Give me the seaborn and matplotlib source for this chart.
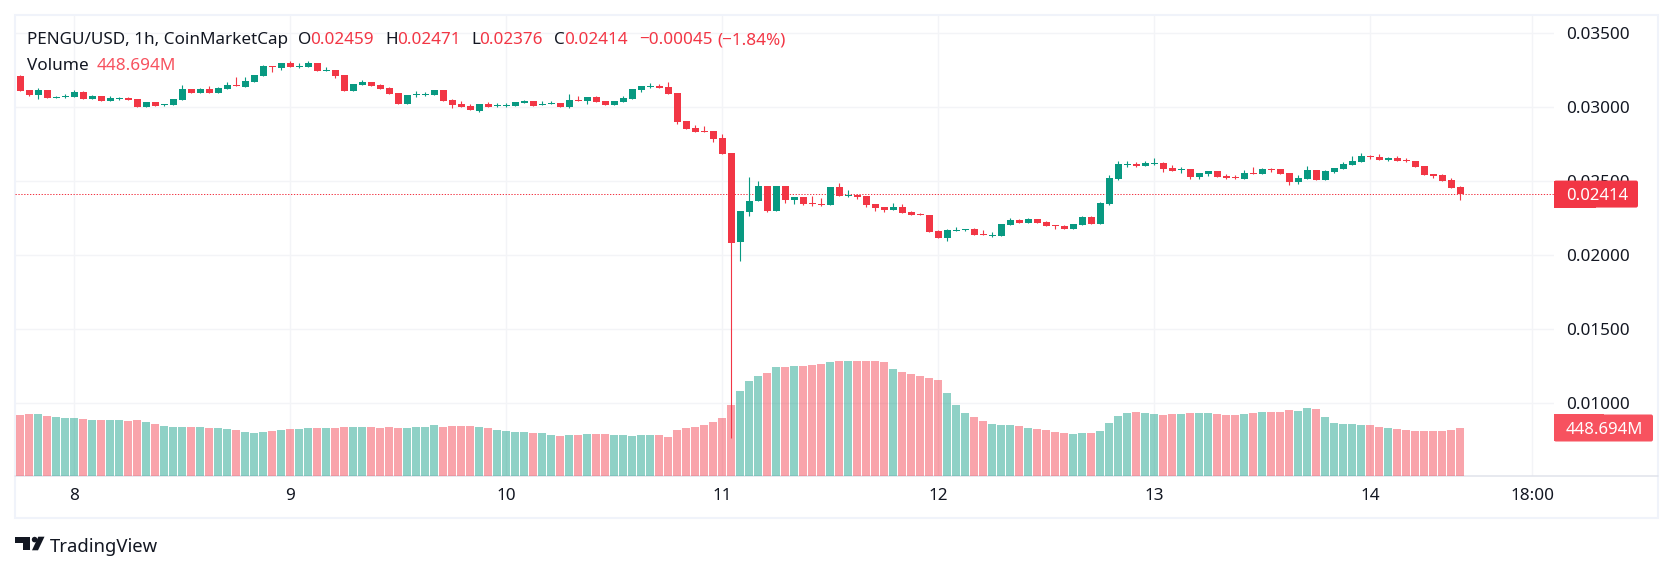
import matplotlib
matplotlib.use("Agg")
import matplotlib.pyplot as plt
from matplotlib.patches import Rectangle, Polygon, Circle, FancyBboxPatch
from matplotlib.transforms import IdentityTransform
import numpy as np
import pandas as pd
import seaborn as sns

# Hourly PENGU/USD candles, prices in units of 0.00001 USD
opens = [3212,3117,3083,3117,3065,3072,3070,3104,3056,3074,3045,3059,3063,3056,3002,3036,3016,3016,3050,3124,
         3097,3124,3097,3124,3149,3137,3171,3212,3279,3266,3300,3275,3272,3300,3245,3252,3218,3110,3151,3171,
         3151,3131,3097,3023,3081,3083,3083,3117,3050,3023,3009,2975,3023,3009,3011,3009,3029,3043,3016,3023,
         3029,3002,3050,3043,3070,3043,3016,3036,3056,3117,3137,3144,3137,3097,2908,2860,2840,2840,2793,2691,
         2090,2293,2367,2469,2300,2469,2374,2394,2354,2347,2340,2462,2401,2408,2401,2347,2327,2306,2327,2293,
         2279,2273,2164,2117,2164,2171,2178,2144,2131,2131,2205,2239,2219,2246,2225,2205,2198,2178,2205,2259,
         2212,2347,2516,2610,2617,2604,2617,2624,2590,2577,2583,2529,2550,2570,2536,2529,2516,2556,2550,2583,
         2583,2556,2495,2516,2577,2509,2563,2583,2610,2631,2671,2664,2644,2658,2644,2637,2604,2550,2543,2509,
         2459]
highs = [3216,3117,3131,3117,3077,3088,3117,3108,3083,3074,3077,3070,3068,3056,3036,3036,3023,3056,3151,3124,
         3131,3144,3137,3171,3205,3205,3218,3286,3279,3300,3313,3300,3313,3300,3272,3252,3218,3158,3185,3171,
         3158,3137,3097,3083,3110,3104,3117,3117,3056,3043,3023,3023,3036,3029,3027,3036,3050,3043,3043,3043,
         3029,3090,3077,3070,3077,3043,3043,3077,3124,3144,3164,3158,3171,3097,2908,2881,2874,2840,2820,2691,
         2300,2529,2502,2469,2469,2469,2394,2394,2401,2387,2462,2489,2442,2412,2401,2347,2327,2354,2347,2300,
         2284,2273,2171,2178,2191,2178,2185,2171,2158,2212,2252,2246,2252,2246,2232,2205,2205,2212,2266,2266,
         2360,2543,2637,2637,2631,2637,2658,2631,2610,2597,2583,2556,2570,2570,2550,2543,2577,2597,2590,2590,
         2583,2556,2543,2604,2577,2577,2590,2631,2671,2691,2678,2685,2664,2671,2658,2637,2604,2550,2550,2523,
         2471]
lows = [3113,3079,3056,3063,3063,3065,3070,3056,3056,3043,3041,3050,3052,3002,3002,3009,3009,3016,3050,3097,
        3097,3097,3097,3124,3144,3137,3171,3212,3239,3254,3272,3266,3272,3245,3245,3198,3110,3110,3151,3144,
        3124,3090,3023,3023,3068,3077,3083,3043,2995,3002,2982,2968,3002,3002,3002,3009,3029,3009,3016,3023,
        3002,2995,3043,3023,3036,3016,3016,3036,3056,3104,3131,3131,3090,2887,2854,2833,2833,2766,2685,766,
        1964,2266,2367,2293,2300,2354,2347,2340,2333,2333,2340,2401,2394,2381,2327,2300,2293,2306,2286,2273,
        2273,2158,2117,2097,2164,2164,2137,2137,2124,2131,2205,2219,2219,2219,2198,2178,2178,2178,2205,2212,
        2212,2340,2509,2597,2597,2604,2610,2563,2570,2556,2516,2516,2536,2529,2516,2516,2516,2550,2550,2563,
        2550,2475,2482,2516,2509,2509,2556,2583,2610,2631,2651,2644,2637,2637,2631,2597,2543,2523,2502,2455,
        2376]
closes = [3113,3086,3117,3063,3070,3079,3106,3056,3077,3043,3063,3063,3052,3002,3036,3009,3020,3056,3124,3097,
          3124,3097,3131,3151,3144,3178,3218,3279,3275,3300,3272,3281,3300,3245,3250,3212,3110,3158,3171,3144,
          3124,3090,3023,3083,3088,3088,3117,3043,3016,3002,2982,3023,3002,3016,3018,3036,3043,3009,3023,3029,
          3002,3050,3043,3070,3036,3016,3043,3063,3124,3144,3144,3131,3090,2901,2854,2833,2833,2786,2685,2083,
          2300,2367,2469,2300,2469,2374,2394,2347,2347,2340,2462,2401,2408,2394,2340,2320,2306,2327,2286,2273,
          2273,2158,2117,2171,2171,2178,2137,2137,2137,2212,2239,2219,2246,2219,2198,2198,2178,2212,2259,2212,
          2354,2523,2617,2617,2604,2624,2624,2583,2570,2583,2529,2556,2570,2529,2523,2523,2556,2550,2583,2577,
          2550,2495,2523,2577,2509,2570,2590,2617,2637,2671,2664,2644,2658,2637,2637,2597,2543,2536,2502,2455,
          2414]

# Hourly traded volume, in millions
volumes = [570,580,580,561,552,542,542,533,523,523,523,523,514,523,505,486,467,458,458,458,
           458,449,449,439,430,411,402,411,421,430,439,439,449,449,449,449,458,458,458,458,
           449,458,449,449,458,458,477,458,467,467,467,458,449,430,421,411,411,402,402,383,
           374,383,383,393,393,393,383,383,374,383,383,383,365,430,449,458,477,505,542,664,
           795,888,935,963,1019,1019,1028,1028,1038,1047,1066,1075,1075,1075,1075,1075,1066,1000,972,954,
           935,916,897,776,664,589,552,514,486,477,477,467,449,439,430,411,402,393,402,402,
           421,495,561,589,598,589,580,570,580,580,589,589,589,580,570,570,580,589,598,598,
           598,617,608,636,626,552,495,486,486,477,477,458,449,439,430,421,421,421,421,430,
           448.694]

# The day labels fall on the midnight candles; the trailing one is a future slot
tick_bars = [6, 30, 54, 78, 102, 126, 150, 168]
tick_labels = ["8", "9", "10", "11", "12", "13", "14", "18:00"]
price_ticks = [0.035, 0.030, 0.025, 0.020, 0.015, 0.010]

last_price = 0.02414
last_volume_text = "448.694M"

UP = "#089981"
DOWN = "#F23645"
VOL_TAG = "#F7525F"
INK = "#131722"
GRID = "#F3F4F7"
BORDER = "#F0F3FA"
AXIS_LINE = "#E0E3EB"
W, H = 1674, 571
UNIT = 1e-5
XLIM = (-0.533, 170.41)
PRICE_LIM = (0.005090, 0.036205)
VOLUME_LIM = (0, 4304.6)

sns.set_theme(style="white", rc={"axes.grid": False})
plt.rcParams["font.family"] = ["Noto Sans", "DejaVu Sans"]

frame = pd.DataFrame({"bar": np.arange(len(opens)), "open": opens, "high": highs,
                      "low": lows, "close": closes, "volume": volumes})
frame[["open", "high", "low", "close"]] *= UNIT
frame["direction"] = np.where(frame["close"] >= frame["open"], "up", "down")

fig = plt.figure(figsize=(W / 100, H / 100), dpi=100, facecolor="white")
rect = [15.5 / W, (H - 476) / H, (1554 - 15.5) / W, (476 - 15.5) / H]
ax_grid = fig.add_axes(rect, zorder=0)
ax_vol = fig.add_axes(rect, zorder=1, facecolor="none")
ax = fig.add_axes(rect, zorder=2, facecolor="none")

# Background grid, visible through the translucent volume bars
ax_grid.set_xlim(XLIM)
ax_grid.set_ylim(PRICE_LIM)
ax_grid.set_xticks(tick_bars)
ax_grid.set_yticks(price_ticks)
ax_grid.grid(True, color=GRID, lw=1)
ax_grid.tick_params(length=0, labelbottom=False, labelleft=False)

# Volume histogram sits in the lower part of the pane
sns.barplot(data=frame, x="bar", y="volume", hue="direction", native_scale=True,
            palette={"up": UP, "down": DOWN}, dodge=False, width=0.9, alpha=0.45,
            saturation=1, errorbar=None, linewidth=0, legend=False, ax=ax_vol)
ax_vol.set_ylim(VOLUME_LIM)
ax_vol.set_xlim(XLIM)
ax_vol.set_xticks([])
ax_vol.set_yticks([])
ax_vol.set_xlabel("")
ax_vol.set_ylabel("")

# Candles: wicks first, bodies on top
colors = frame["direction"].map({"up": UP, "down": DOWN})
ax.vlines(frame["bar"], frame["low"], frame["high"], colors=colors, lw=0.8, zorder=3)
ax.bar(frame["bar"], (frame["close"] - frame["open"]).abs(),
       bottom=frame[["open", "close"]].min(axis=1), width=0.78, color=colors, linewidth=0, zorder=4)
ax.axhline(last_price, color=DOWN, lw=0.72, dashes=(1.3, 1.6), zorder=2)

ax.set_xlim(XLIM)
ax.set_ylim(PRICE_LIM)
ax.yaxis.tick_right()
ax.set_yticks(price_ticks)
ax.set_yticklabels([f"{v:.5f}" for v in price_ticks])
ax.set_xticks(tick_bars)
ax.set_xticklabels(tick_labels)
ax.tick_params(axis="y", length=0, pad=8.6, labelsize=12.3, labelcolor=INK)
ax.tick_params(axis="x", length=0, pad=9, labelsize=12.3, labelcolor=INK)
for axis in (ax_grid, ax_vol, ax):
    for s in axis.spines.values():
        s.set_visible(False)


def fx(px):
    return px / W


def fy(px):
    return 1 - px / H


def label(x, y, s, color=INK, size=12.3, **kw):
    fig.text(fx(x), fy(y), s, color=color, fontsize=size, va="center_baseline", ha="left", **kw)


def value_tag(y_display, width, color, text):
    # Square on the axis side, slightly rounded on the outer side
    fig.add_artist(FancyBboxPatch((1554, y_display - 13.5), width, 27, boxstyle="round,pad=0,rounding_size=2",
                                  transform=IdentityTransform(), fc=color, ec="none", zorder=5))
    fig.add_artist(Rectangle((1554, y_display - 13.5), width / 2, 27, transform=IdentityTransform(),
                             fc=color, ec="none", zorder=5))
    fig.text(1566 / W, y_display / H, text, color="white", fontsize=12, fontweight="bold",
             va="center_baseline", ha="left", zorder=6)


# Outer frame and the rule above the time scale
fig.add_artist(Rectangle((fx(15), fy(517.5)), fx(1658 - 15), 502.5 / H, transform=fig.transFigure,
                         fill=False, ec=BORDER, lw=1.5, zorder=1))
fig.add_artist(plt.Line2D([fx(15), fx(1658)], [fy(476), fy(476)], color=AXIS_LINE, lw=1.1, zorder=1))

# Legend rows
label(27, 38.5, "PENGU/USD, 1h, CoinMarketCap")
for x, s, c in [(298, "O", INK), (310.5, "0.02459", DOWN), (385, "H", INK), (397, "0.02471", DOWN),
                (471, "L", INK), (479, "0.02376", DOWN), (554, "C", INK), (564, "0.02414", DOWN),
                (639, "\u22120.00045", DOWN), (717.5, "(\u22121.84%)", DOWN)]:
    label(x, 38.5, s, c)
label(27, 64, "Volume")
label(97, 64, last_volume_text, VOL_TAG)

# Value tags on the price scale
fig.canvas.draw()
value_tag(ax.transData.transform((0, last_price))[1], 84, DOWN, f"{last_price:.5f}")
value_tag(ax_vol.transData.transform((0, volumes[-1]))[1], 99, VOL_TAG, last_volume_text)


# Brand mark and wordmark under the pane
def mark(points):
    fig.add_artist(Polygon([(fx(a), fy(b)) for a, b in points], transform=fig.transFigure, fc=INK, ec="none"))


mark([(15, 536.7), (30, 536.7), (30, 550.3), (23.5, 550.3), (23.5, 543.3), (15, 543.3)])
mark([(38.3, 536.7), (44.5, 536.7), (38, 550.3), (32, 550.3)])
fig.add_artist(Circle((34.6, H - 539.6), 2.8, transform=IdentityTransform(), fc=INK, ec="none"))
label(50, 545.5, "TradingView", size=13.3)

fig.savefig("out.png", dpi=100, facecolor="white")
